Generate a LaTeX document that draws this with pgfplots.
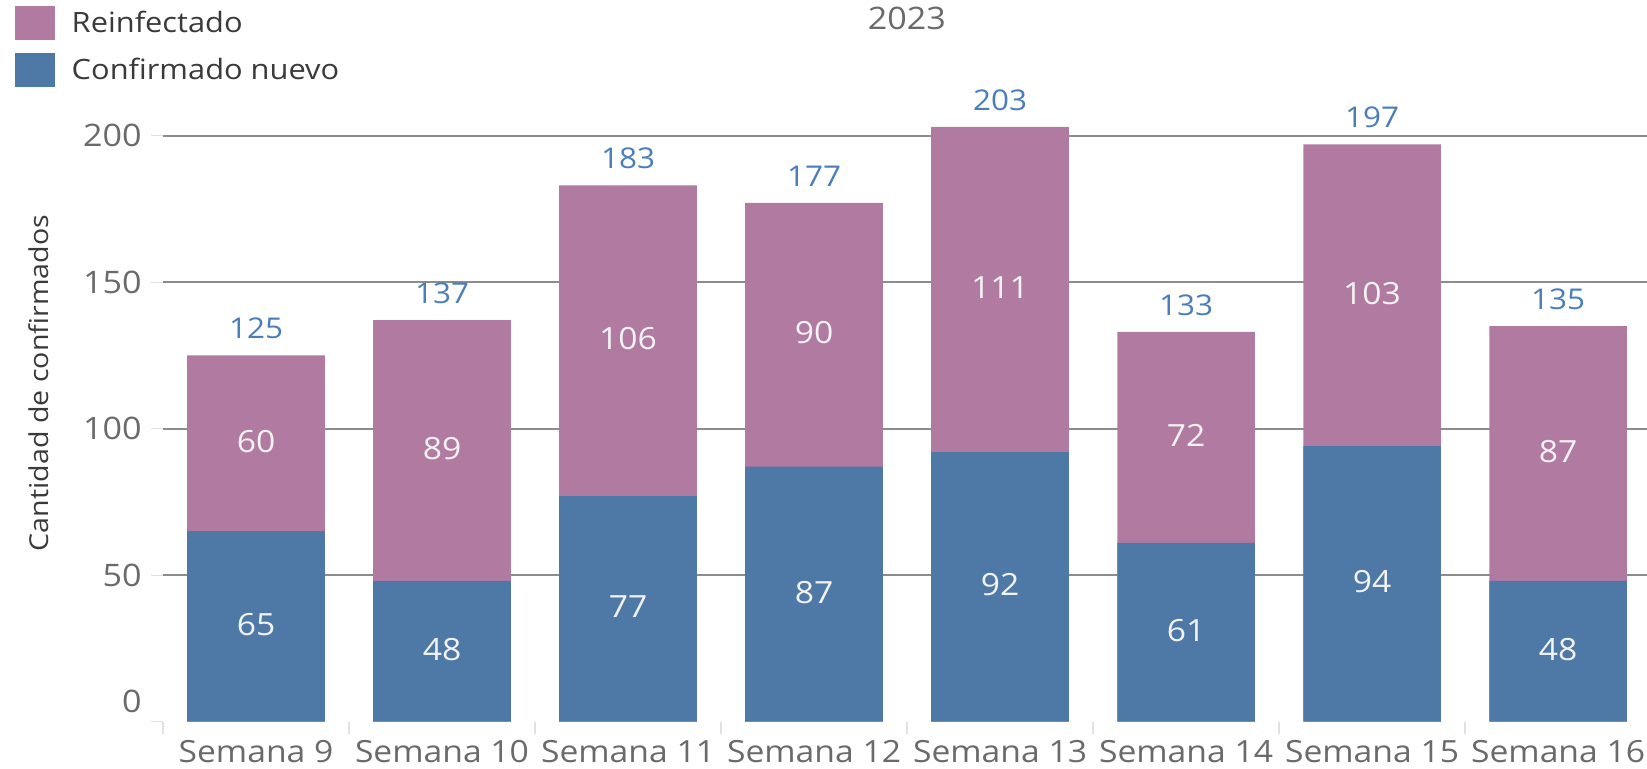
\documentclass[border=0pt]{standalone}
\usepackage{pgfplots}
\pgfplotsset{compat=1.18}
\usepackage{pgfplotstable}
\usepackage{fontspec}
\setmainfont{Open Sans}[FakeStretch=1.1]
\definecolor{pinkc}{HTML}{B07AA1}
\definecolor{bluec}{HTML}{4E79A7}
\definecolor{totc}{HTML}{4A7EBB}
\definecolor{gridc}{HTML}{8C8C8C}
\definecolor{tickc}{HTML}{6A6A6A}
\definecolor{legc}{HTML}{3A3A3A}
\definecolor{inbar}{HTML}{F2F2F2}
\pgfplotstableread{
x new reinf total
0 65 60 125
1 48 89 137
2 77 106 183
3 87 90 177
4 92 111 203
5 61 72 133
6 94 103 197
7 48 87 135
}\data
\newcommand{\fs}[1]{\fontsize{#1}{#1}\selectfont}
\begin{document}
\begin{tikzpicture}
\useasboundingbox (0,0) rectangle (823.5pt,384pt);
\begin{axis}[
  at={(81.5pt,23.2pt)}, anchor=south west,
  scale only axis, width=742pt, height=336.95pt,
  xmin=-0.5, xmax=7.478, ymin=0, ymax=230,
  clip=false,
  axis line style={draw=none},
  /pgf/number format/assume math mode=true,
  tick pos=left,
  tick align=outside,
  major tick length=6pt,
  tick style={color=black!12, line width=0.6pt},
  xtick={-0.5,0.5,1.5,2.5,3.5,4.5,5.5,6.5},
  xticklabels={Semana 9,Semana 10,Semana 11,Semana 12,Semana 13,Semana 14,Semana 15,Semana 16},
  xticklabel style={xshift=46.5pt, font=\fs{15.3}, text=tickc, yshift=0pt},
  ytick={50,100,150,200},
  yticklabel style={font=\fs{15.5}, text=tickc, xshift=-1.2pt},
  extra y ticks={0},
  extra y tick style={grid=none, yticklabel style={yshift=10pt}},
  ymajorgrids,
  major grid style={gridc, line width=1pt},
  ylabel={Cantidad de confirmados},
  ylabel style={at={(axis description cs:-0.0836,0.5025)}, anchor=center, font=\fs{13}, text=legc},
  title={2023},
  title style={at={(axis description cs:0.5013,1)}, anchor=center, yshift=8.7pt, font=\fs{15.5}, text=tickc},
  legend style={at={(axis description cs:-0.0997,1.0619)}, anchor=north west, draw=none, fill=none,
    font=\fs{14}, text=legc, inner sep=0pt, outer sep=0pt, row sep=6.75pt,
    nodes={inner sep=0pt}, column sep=8.35pt},
  legend cell align=left,
  legend image code/.code={\fill[#1] (0pt,-8.5pt) rectangle (20pt,8.5pt);},
]
\addlegendimage{fill=pinkc, draw=none}
\addlegendentry{Reinfectado}
\addlegendimage{fill=bluec, draw=none}
\addlegendentry{Confirmado nuevo}
\addplot[ybar, bar width=0.74, bar shift=0pt, fill=pinkc, draw=none, forget plot] table[x=x, y=total] {\data};
\addplot[ybar, bar width=0.74, bar shift=0pt, fill=bluec, draw=none, forget plot] table[x=x, y=new] {\data};
\addplot[draw=none, mark=none, forget plot, nodes near coords={\pgfplotspointmeta}, point meta=explicit symbolic,
  nodes near coords style={anchor=center, yshift=1pt, font=\fs{15.3}, text=inbar}]
  table[x=x, y expr=\thisrow{new}/2, meta=new] {\data};
\addplot[draw=none, mark=none, forget plot, nodes near coords={\pgfplotspointmeta}, point meta=explicit symbolic,
  nodes near coords style={anchor=center, yshift=1pt, font=\fs{15.3}, text=inbar}]
  table[x=x, y expr=\thisrow{new}+\thisrow{reinf}/2, meta=reinf] {\data};
\addplot[draw=none, mark=none, forget plot, nodes near coords={\pgfplotspointmeta}, point meta=explicit symbolic,
  nodes near coords style={anchor=south, inner sep=0pt, yshift=7.9pt, font=\fs{14.3}, text=totc}]
  table[x=x, y=total, meta=total] {\data};
\end{axis}
\end{tikzpicture}
\end{document}
